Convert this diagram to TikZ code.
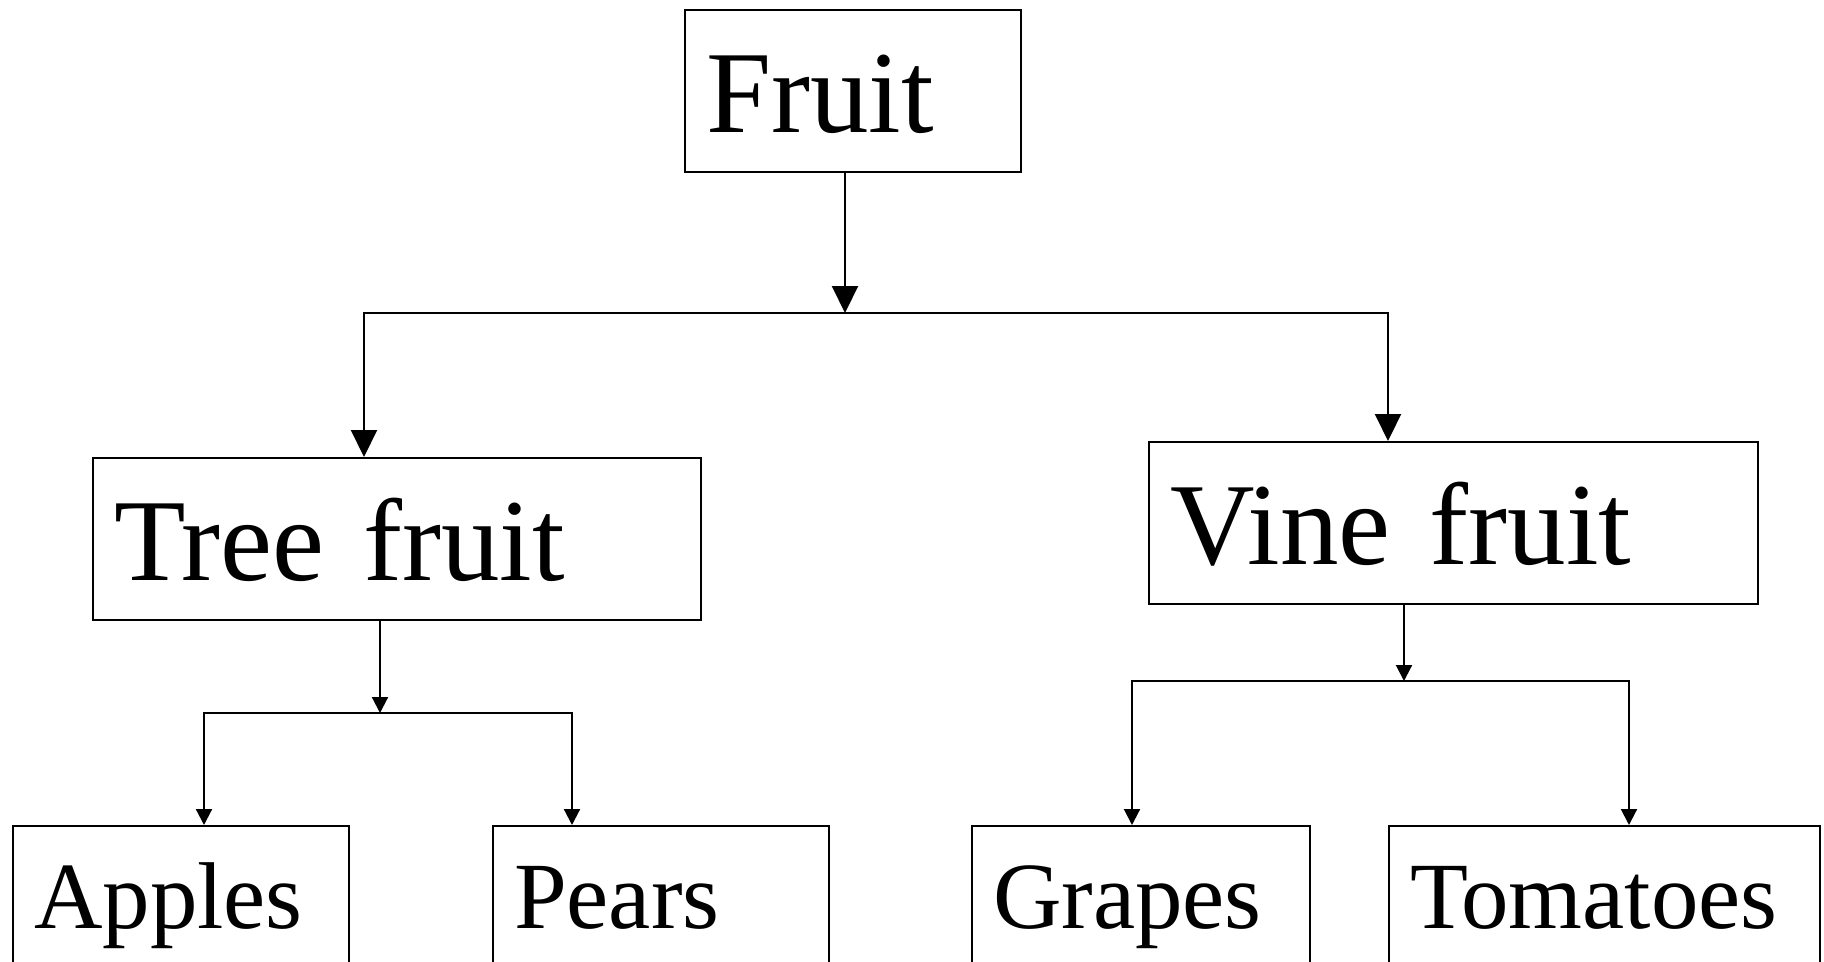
\documentclass[tikz,border=0pt]{standalone}
\usepackage{fontspec}
\setmainfont{Liberation Serif}
\usetikzlibrary{arrows.meta}

\begin{document}
\begin{tikzpicture}
  [line width=0.6pt,
   box/.style={draw,rectangle,anchor=north west,inner xsep=0.21cm,inner ysep=0pt,
     align=left,text width=#1,text height=1.22cm,text depth=0.40cm,
     font=\fontsize{33.3pt}{40pt}\selectfont},
   leaf/.style={box=#1,text height=1.02cm,text depth=0.60cm,
     font=\fontsize{27pt}{32pt}\selectfont},
   bigarrow/.style={-{Triangle[width=0.26cm,length=0.27cm]}},
   smallarrow/.style={-{Triangle[width=0.16cm,length=0.16cm]}}]
  \useasboundingbox (0,0) rectangle (18.24,-9.61);

  \node[box=2.94cm] (fruit) at (6.84,-0.09) {Fruit};
  \node[box=5.66cm] (tree) at (0.92,-4.57) {Tree fruit};
  \node[box=5.67cm] (vine) at (11.48,-4.41) {Vine fruit};
  \node[leaf=2.94cm] (apples) at (0.12,-8.25) {Apples};
  \node[leaf=2.94cm] (pears) at (4.92,-8.25) {Pears};
  \node[leaf=2.96cm] (grapes) at (9.71,-8.25) {Grapes};
  \node[leaf=3.89cm] (tomatoes) at (13.88,-8.25) {Tomatoes};

  \coordinate (jfruit) at (8.45,-3.13);
  \coordinate (fl) at (3.64,-3.13);
  \coordinate (fr) at (13.88,-3.13);
  \coordinate (jtree) at (3.80,-7.13);
  \coordinate (tl) at (2.04,-7.13);
  \coordinate (tr) at (5.72,-7.13);
  \coordinate (jvine) at (14.04,-6.81);
  \coordinate (vl) at (11.32,-6.81);
  \coordinate (vr) at (16.29,-6.81);

  % top level
  \draw[bigarrow] (fruit.south -| jfruit) -- (jfruit);
  \foreach \from/\to in {fl/tree,fr/vine}
    \draw[bigarrow] (jfruit) -- (\from) -- (\from |- \to.north);

  % second level
  \draw[smallarrow] (tree.south -| jtree) -- (jtree);
  \draw[smallarrow] (vine.south -| jvine) -- (jvine);
  \foreach \j/\from/\to in {jtree/tl/apples,jtree/tr/pears,jvine/vl/grapes,jvine/vr/tomatoes}
    \draw[smallarrow] (\j) -- (\from) -- (\from |- \to.north);

\end{tikzpicture}
\end{document}
